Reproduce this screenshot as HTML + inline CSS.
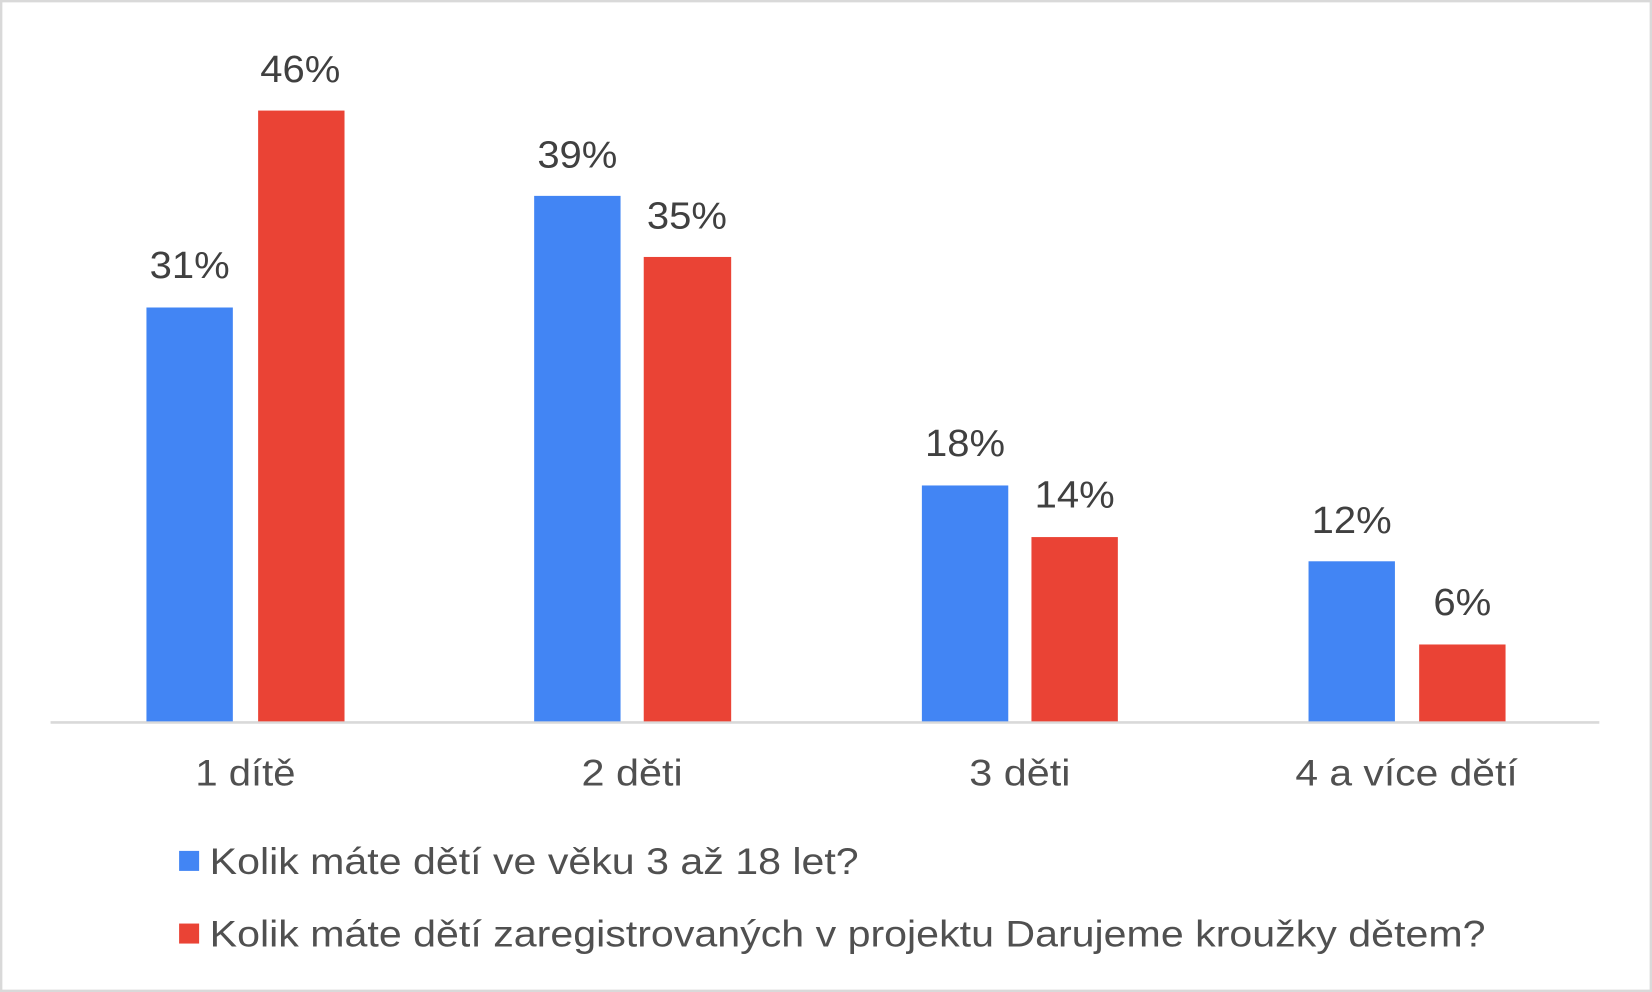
<!DOCTYPE html>
<html><head><meta charset="utf-8"><style>
html,body{margin:0;padding:0;background:#fff;}
svg{display:block;}
text{font-family:"Liberation Sans",Arial,sans-serif;}
</style></head><body>
<svg width="1652" height="992" viewBox="0 0 1568 942" preserveAspectRatio="none" xmlns="http://www.w3.org/2000/svg">
<rect x="1" y="1" width="1566" height="940" fill="#fff" stroke="#d9d9d9" stroke-width="2.5"/>
<line x1="48" y1="686" x2="1518" y2="686" stroke="#d9d9d9" stroke-width="2.5"/>
<g fill="#4285f4">
<rect x="139" y="292" width="82" height="393"/>
<rect x="507" y="186" width="82" height="499"/>
<rect x="875" y="461" width="82" height="224"/>
<rect x="1242" y="533" width="82" height="152"/>
</g>
<g fill="#ea4335">
<rect x="245" y="105" width="82" height="580"/>
<rect x="611" y="244" width="83" height="441"/>
<rect x="979" y="510" width="82" height="175"/>
<rect x="1347" y="612" width="82" height="73"/>
</g>
<g fill="#404040" font-size="36" text-anchor="middle" lengthAdjust="spacingAndGlyphs">
<text x="180" y="264" textLength="76" lengthAdjust="spacingAndGlyphs">31%</text>
<text x="285" y="78" textLength="76" lengthAdjust="spacingAndGlyphs">46%</text>
<text x="548" y="159" textLength="76" lengthAdjust="spacingAndGlyphs">39%</text>
<text x="652" y="217" textLength="76" lengthAdjust="spacingAndGlyphs">35%</text>
<text x="916" y="433" textLength="76" lengthAdjust="spacingAndGlyphs">18%</text>
<text x="1020" y="482" textLength="76" lengthAdjust="spacingAndGlyphs">14%</text>
<text x="1283" y="506" textLength="76" lengthAdjust="spacingAndGlyphs">12%</text>
<text x="1388" y="584" textLength="55" lengthAdjust="spacingAndGlyphs">6%</text>
</g>
<g fill="#505050" font-size="35" text-anchor="middle">
<text x="233" y="746" textLength="95" lengthAdjust="spacingAndGlyphs">1 dítě</text>
<text x="600" y="746" textLength="96" lengthAdjust="spacingAndGlyphs">2 děti</text>
<text x="968" y="746" textLength="96" lengthAdjust="spacingAndGlyphs">3 děti</text>
<text x="1335" y="746" textLength="211" lengthAdjust="spacingAndGlyphs">4 a více dětí</text>
</g>
<rect x="170" y="808" width="19" height="19" fill="#4285f4"/>
<rect x="170" y="877" width="19" height="19" fill="#ea4335"/>
<g fill="#505050" font-size="35">
<text x="199" y="830" textLength="616" lengthAdjust="spacingAndGlyphs">Kolik máte dětí ve věku 3 až 18 let?</text>
<text x="199" y="899" textLength="1211" lengthAdjust="spacingAndGlyphs">Kolik máte dětí zaregistrovaných v projektu Darujeme kroužky dětem?</text>
</g>
</svg>
</body></html>
